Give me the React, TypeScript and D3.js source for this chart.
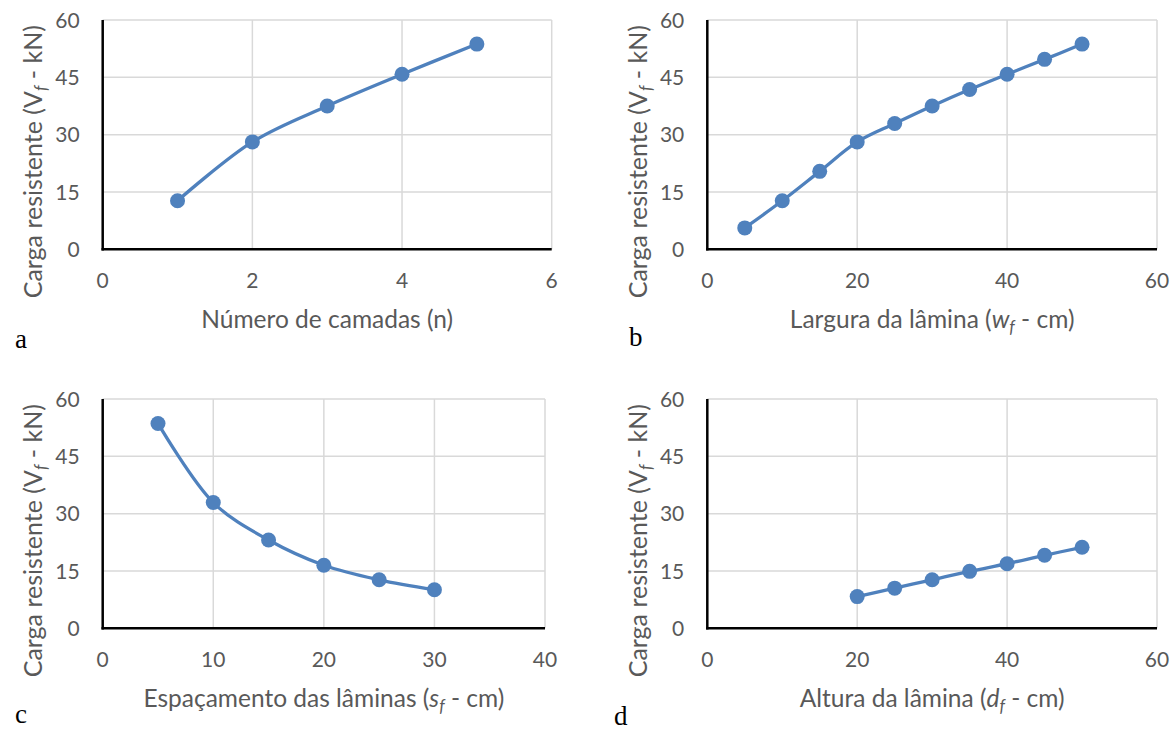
import React from "react";
import * as d3 from "d3";

const yTicks = [0, 15, 30, 45, 60];

const aX = [1, 2, 3, 4, 5];
const aY = [12.7, 28.1, 37.5, 45.8, 53.7];
const aXTicks = [0, 2, 4, 6];

const bX = [5, 10, 15, 20, 25, 30, 35, 40, 45, 50];
const bY = [5.6, 12.7, 20.4, 28.1, 32.9, 37.5, 41.8, 45.8, 49.7, 53.7];
const bXTicks = [0, 20, 40, 60];

const cX = [5, 10, 15, 20, 25, 30];
const cY = [53.6, 32.9, 23.1, 16.5, 12.7, 10.1];
const cXTicks = [0, 10, 20, 30, 40];

const dX = [20, 25, 30, 35, 40, 45, 50];
const dY = [8.3, 10.5, 12.7, 14.9, 16.9, 19.1, 21.2];
const dXTicks = [0, 20, 40, 60];

const BLUE = "#4f81bd";
const GRID = "#d9d9d9";
const TXT = "#595959";
const FONT = "Lato, 'Open Sans', sans-serif";

type PanelProps = {
  left: number;
  right: number;
  top: number;
  bottom: number;
  xs: number[];
  ys: number[];
  xTicks: number[];
  xTitle: React.ReactNode;
  letter: string;
  letterX: number;
  letterY: number;
  yTitleX: number;
};

function Panel(p: PanelProps) {
  const xMax = p.xTicks[p.xTicks.length - 1];
  const x = d3.scaleLinear().domain([0, xMax]).range([p.left, p.right]);
  const y = d3.scaleLinear().domain([0, 60]).range([p.bottom, p.top]);
  const pts: [number, number][] = p.xs.map((v, i) => [x(v), y(p.ys[i])]);
  const line = d3.line().curve(d3.curveCatmullRom.alpha(0.5))(pts) || "";
  const yTitleCY = (p.top + p.bottom) / 2 + 27;
  return (
    <g>
      {yTicks.map((t) => (
        <line key={"gy" + t} x1={p.left} x2={p.right} y1={y(t)} y2={y(t)} stroke={GRID} strokeWidth={1.5} />
      ))}
      {p.xTicks.map((t) => (
        <line key={"gx" + t} x1={x(t)} x2={x(t)} y1={p.top} y2={p.bottom} stroke={GRID} strokeWidth={1.5} />
      ))}
      <line x1={p.left} x2={p.left} y1={p.top} y2={p.bottom + 1.2} stroke="#000" strokeWidth={2.5} />
      <line x1={p.left - 1.2} x2={p.right} y1={p.bottom} y2={p.bottom} stroke="#000" strokeWidth={2.5} />
      {yTicks.map((t) => (
        <text key={"ty" + t} x={p.left - 23} y={y(t)} dy="0.36em" textAnchor="end" fill={TXT} fontSize={21} fontFamily={FONT}>
          {t}
        </text>
      ))}
      {p.xTicks.map((t) => (
        <text key={"tx" + t} x={x(t)} y={p.bottom + 39} textAnchor="middle" fill={TXT} fontSize={21} fontFamily={FONT}>
          {t}
        </text>
      ))}
      <path d={line} fill="none" stroke={BLUE} strokeWidth={3.3} />
      {pts.map((q, i) => (
        <circle key={"pt" + i} cx={q[0]} cy={q[1]} r={7.5} fill={BLUE} />
      ))}
      <text
        transform={`translate(${p.yTitleX},${yTitleCY}) rotate(-90)`}
        dy="0.35em"
        textAnchor="middle"
        fill={TXT}
        fontSize={25}
        fontFamily={FONT}
      >
        Carga resistente (V
        <tspan fontStyle="italic" fontSize={17} dy="5">f</tspan>
        <tspan dy="-5"> - kN)</tspan>
      </text>
      <text x={(p.left + p.right) / 2} y={p.bottom + 79} textAnchor="middle" fill={TXT} fontSize={24.5} fontFamily={FONT}>
        {p.xTitle}
      </text>
      <text x={p.letterX} y={p.letterY} fill="#000" fontSize={27} fontFamily="'Times New Roman', 'Liberation Serif', serif">
        {p.letter}
      </text>
    </g>
  );
}

function Sub(props: { v: string }) {
  return (
    <>
      <tspan fontStyle="italic">{props.v}</tspan>
      <tspan fontStyle="italic" fontSize={17} dy="5">f</tspan>
      <tspan dy="-5"> - cm)</tspan>
    </>
  );
}

export default function App() {
  return (
    <svg width={1173} height={731} style={{ position: "absolute", left: 0, top: 0, background: "#fff" }}>
      <rect width={1173} height={731} fill="#fff" />
      <Panel
        left={102.7}
        right={551.7}
        top={20}
        bottom={249.3}
        xs={aX}
        ys={aY}
        xTicks={aXTicks}
        xTitle="Número de camadas (n)"
        letter="a"
        letterX={15}
        letterY={348}
        yTitleX={33}
      />
      <Panel
        left={707.3}
        right={1157}
        top={20}
        bottom={249.3}
        xs={bX}
        ys={bY}
        xTicks={bXTicks}
        xTitle={<>Largura da lâmina (<Sub v="w" /></>}
        letter="b"
        letterX={629}
        letterY={346}
        yTitleX={638}
      />
      <Panel
        left={102.7}
        right={545}
        top={399}
        bottom={628.3}
        xs={cX}
        ys={cY}
        xTicks={cXTicks}
        xTitle={<>Espaçamento das lâminas (<Sub v="s" /></>}
        letter="c"
        letterX={15}
        letterY={723}
        yTitleX={33}
      />
      <Panel
        left={707.3}
        right={1157}
        top={399}
        bottom={628.3}
        xs={dX}
        ys={dY}
        xTicks={dXTicks}
        xTitle={<>Altura da lâmina (<Sub v="d" /></>}
        letter="d"
        letterX={614}
        letterY={725}
        yTitleX={638}
      />
    </svg>
  );
}
